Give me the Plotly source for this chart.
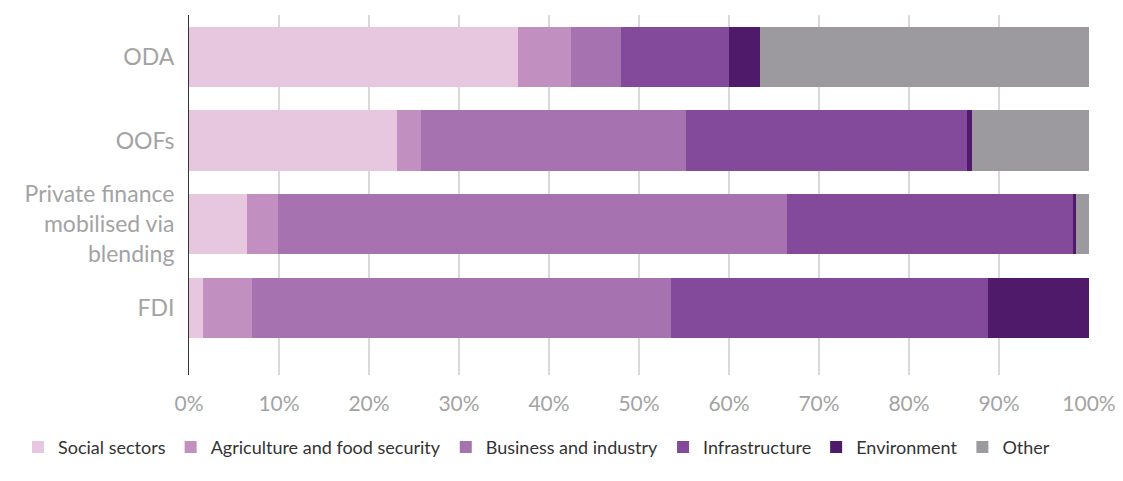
import plotly.graph_objects as go

categories = ["ODA", "OOFs", "Private finance<br>mobilised via<br>blending", "FDI"]
sectors = [
    "Social sectors",
    "Agriculture and food security",
    "Business and industry",
    "Infrastructure",
    "Environment",
    "Other",
]
social = [36.6, 23.1, 6.4, 1.6]
agriculture = [5.8, 2.7, 3.5, 5.4]
business = [5.6, 29.4, 56.5, 46.5]
infrastructure = [12.0, 31.2, 31.9, 35.3]
environment = [3.4, 0.6, 0.2, 11.2]
other = [36.6, 13.0, 1.5, 0.0]
x_ticks = list(range(0, 101, 10))
x_tick_labels = [f"{v}%" for v in x_ticks]

series = [social, agriculture, business, infrastructure, environment, other]
colors = ["#e7c6df", "#c290c0", "#a673b0", "#83499a", "#4f1a6a", "#9d9a9f"]

fig = go.Figure()
for name, values, color in zip(sectors, series, colors):
    fig.add_trace(
        go.Bar(
            y=categories,
            x=values,
            name=name,
            orientation="h",
            marker={"color": color, "line": {"width": 0}},
        )
    )

# page body has an 8px margin on every side, so the figure is sized to fit inside it
fig.update_layout(
    barmode="stack",
    bargap=0.28,
    width=1107,
    height=465,
    margin={"l": 181, "r": 26, "t": 7, "b": 96},
    paper_bgcolor="#ffffff",
    plot_bgcolor="#ffffff",
    font={"family": "Lato, sans-serif", "color": "#999999"},
    xaxis={
        "range": [0, 100],
        "tickmode": "array",
        "tickvals": x_ticks,
        "ticktext": x_tick_labels,
        "showgrid": True,
        "gridcolor": "#dcd7dd",
        "gridwidth": 2,
        "zeroline": False,
        "automargin": False,
        "ticklabeloverflow": "allow",
        "tickfont": {"size": 21, "color": "#a3a3a3"},
        "ticklabelstandoff": 14,
        "fixedrange": True,
    },
    yaxis={
        "categoryorder": "array",
        "categoryarray": categories,
        "range": [3.8, -0.5],
        "automargin": False,
        "showline": True,
        "linecolor": "#333333",
        "linewidth": 1,
        "showgrid": False,
        "tickfont": {"size": 23, "color": "#a3a3a3"},
        "ticklabelstandoff": 9,
    },
    legend={
        "orientation": "h",
        "x": -0.19,
        "xanchor": "left",
        "y": -0.252,
        "yanchor": "bottom",
        "font": {"size": 18, "color": "#333333"},
        "traceorder": "normal",
        "itemclick": False,
    },
)

fig.write_html("out.html")
